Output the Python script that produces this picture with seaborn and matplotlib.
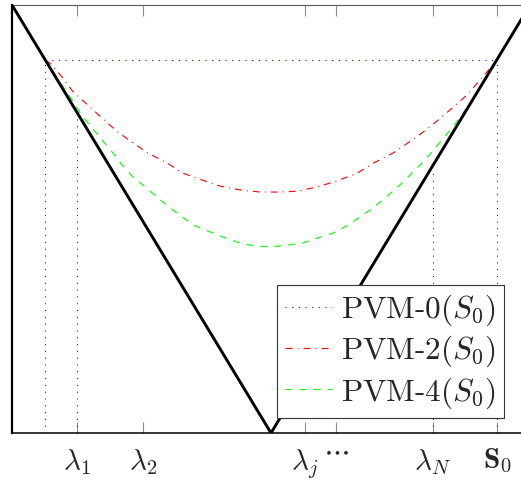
import numpy as np
import pandas as pd
import matplotlib
matplotlib.use("Agg")
import matplotlib.pyplot as plt
import seaborn as sns

# ---------------- data ----------------
payoff_x = [0.0, 100.0, 200.0]
payoff_y = [100.0, 0.0, 100.0]

pvm0_x = [12.9, 187.1]
pvm0_y = [87.1, 87.1]

pvm2_x = [12.9, 14.7, 19.3, 23.6, 29.3, 34.7, 40.9, 46.7, 52.5, 59.8, 66.0, 73.4,
          80.3, 88.0, 95.8, 103.5, 110.4, 117.8, 125.5, 133.2, 139.4, 147.1,
          151.7, 158.3, 164.5, 169.9, 175.7, 180.7, 185.7, 187.1]
pvm2_y = [87.1, 86.4, 83.2, 79.7, 76.6, 73.6, 70.3, 67.8, 65.4, 63.1, 60.7, 59.1,
          57.7, 56.8, 56.3, 56.3, 56.5, 57.5, 58.9, 60.7, 63.0, 65.4,
          67.3, 70.1, 73.1, 75.9, 79.0, 82.5, 86.0, 87.1]

pvm4_x = [12.9, 23.2, 27.4, 30.9, 34.7, 38.6, 42.5, 46.7, 51.4, 56.0, 61.0, 65.6,
          70.7, 76.4, 82.2, 88.0, 93.8, 100.4, 106.2, 112.4, 118.1, 123.9, 129.3,
          134.4, 139.4, 144.0, 149.0, 153.7, 157.5, 162.2, 166.0, 169.9, 173.7,
          177.6, 187.1]
pvm4_y = [87.1, 77.8, 73.8, 71.3, 68.5, 65.7, 62.6, 59.8, 57.5, 55.1, 52.6, 50.5,
          48.4, 47.0, 45.6, 44.4, 43.7, 43.5, 43.9, 44.4, 45.6, 46.7, 48.4,
          50.5, 52.6, 54.9, 57.5, 60.3, 62.6, 65.7, 68.5, 71.3, 74.3,
          77.8, 87.1]

vline_x = [12.9, 25.1, 162.5, 187.3]
vline_top = [87.1, 74.3, 61.0, 86.7]

tick_pos = [25.1, 50.6, 113.1, 125.1, 162.5, 187.3]
tick_labels = [r"$\lambda_1$", r"$\lambda_2$", r"$\lambda_j$", r"$\cdots$",
               r"$\lambda_N$", r"$\mathbf{S}_\mathbf{0}$"]

legend_labels = ["PVM-0$(S_0)$", "PVM-2$(S_0)$", "PVM-4$(S_0)$"]

# ---------------- style ----------------
sns.set_theme(style="white")
plt.rcParams["font.family"] = ["cmr10", "DejaVu Serif"]
plt.rcParams["mathtext.fontset"] = "cm"
plt.rcParams["axes.formatter.use_mathtext"] = True

W, H = 521, 482
fig = plt.figure(figsize=(W / 100, H / 100), dpi=100)
ax_left, ax_right, ax_top, ax_bot = 12, 530, 5, 433
ax = fig.add_axes([ax_left / W, 1 - ax_bot / H, (ax_right - ax_left) / W,
                   (ax_bot - ax_top) / H])

ax.set_xlim(0, 200)
ax.set_ylim(0, 100)

# vertical dotted guides
for xv, yt in zip(vline_x, vline_top):
    ax.plot([xv, xv], [0, yt], color="black", lw=0.7, linestyle=(0, (1, 6)),
            zorder=1)

df0 = pd.DataFrame({"x": pvm0_x, "y": pvm0_y})
df2 = pd.DataFrame({"x": pvm2_x, "y": pvm2_y})
df4 = pd.DataFrame({"x": pvm4_x, "y": pvm4_y})
dfp = pd.DataFrame({"x": payoff_x, "y": payoff_y})

sns.lineplot(data=df0, x="x", y="y", ax=ax, color=(0, 0, 1), lw=0.8,
             linestyle=(0, (1, 5)), sort=False, estimator=None,
             label=legend_labels[0], zorder=3)
sns.lineplot(data=df2, x="x", y="y", ax=ax, color=(1, 0, 0), lw=0.8,
             linestyle=(0, (6.3, 4.5, 0.9, 4.5)), sort=False, estimator=None,
             label=legend_labels[1], zorder=3)
sns.lineplot(data=df4, x="x", y="y", ax=ax, color=(0, 1, 0), lw=0.8,
             linestyle=(0, (6.3, 6.3)), sort=False, estimator=None,
             label=legend_labels[2], zorder=3)
sns.lineplot(data=dfp, x="x", y="y", ax=ax, color="black", lw=2.1,
             sort=False, estimator=None, zorder=4, legend=False)

# axes decorations
ax.set_xlabel("")
ax.set_ylabel("")
ax.set_yticks([])
ax.set_xticks(tick_pos)
labels_shown = [t if t != r"$\cdots$" else "" for t in tick_labels]
ax.set_xticklabels(labels_shown, fontsize=21)
ax.tick_params(axis="x", direction="in", length=8, width=0.8, color="0.55",
               top=True, bottom=True, pad=10)
# the "cdots" label sits high (top aligned short box)
for p, t in zip(tick_pos, tick_labels):
    if t == r"$\cdots$":
        ax.annotate(t, xy=(p, 0), xycoords=("data", "axes fraction"),
                    xytext=(0, -3.5), textcoords="offset points",
                    ha="center", va="top", fontsize=21)

ax.spines["left"].set_color("black")
ax.spines["left"].set_linewidth(1.6)
ax.spines["bottom"].set_color("black")
ax.spines["bottom"].set_linewidth(1.1)
ax.spines["top"].set_color("0.35")
ax.spines["top"].set_linewidth(0.8)
ax.spines["right"].set_visible(False)

leg = ax.legend(loc="upper left", bbox_to_anchor=((277 - ax_left) / (ax_right - ax_left),
                                                   (ax_bot - 285) / (ax_bot - ax_top)),
                borderaxespad=0, fontsize=22.5, frameon=True, fancybox=False,
                framealpha=1, edgecolor="0.2", handlelength=1.5,
                handletextpad=0.3, borderpad=0.25, labelspacing=0.18)
leg.get_frame().set_linewidth(0.8)

fig.savefig("out.png", dpi=100)
